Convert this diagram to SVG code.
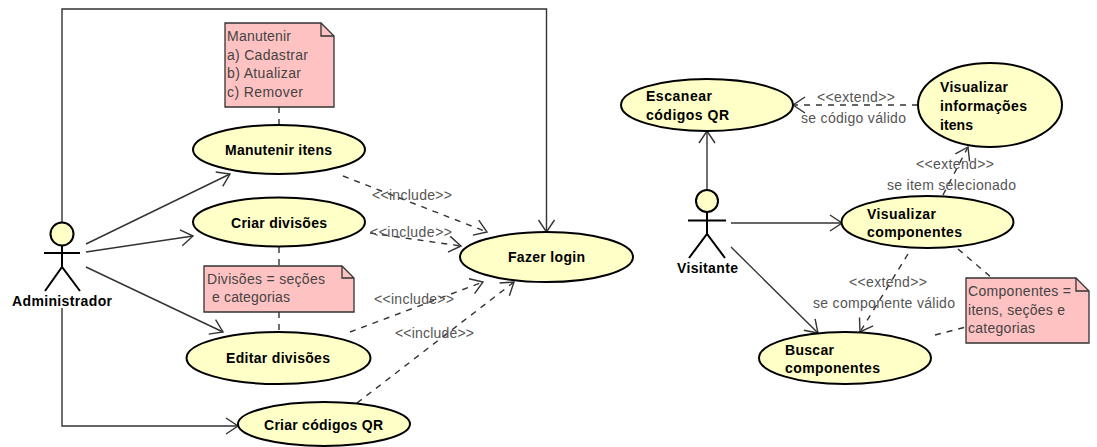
<svg xmlns="http://www.w3.org/2000/svg" width="1097" height="447" viewBox="0 0 1097 447">
<style>
text{font-family:"Liberation Sans",Arial,sans-serif}
.uc{fill:#ffffc8;stroke:#000;stroke-width:2}
.note{fill:#ffc2c2;stroke:#333;stroke-width:1.3}
.fold{fill:none;stroke:#333;stroke-width:1.3}
.actor{fill:none;stroke:#000;stroke-width:2}
.head{fill:#ffffc8;stroke:#000;stroke-width:2}
.b{font-size:14px;font-weight:bold;fill:#000}
.n{font-size:14px;fill:#444}
.l{font-size:14px;fill:#555}
.a{fill:none;stroke:#333;stroke-width:1.4}
.d{fill:none;stroke:#333;stroke-width:1.4;stroke-dasharray:6 6}
.as{marker-end:url(#open)}
</style>
<defs>
<marker id="open" markerUnits="userSpaceOnUse" markerWidth="16" markerHeight="20" refX="13" refY="9" orient="auto">
<path d="M1 1L13 9L1 17" fill="none" stroke="#333" stroke-width="1.4"/>
</marker>
</defs>
<g id="connectors">
<path class="a as" d="M62 222V9H546.500V232"/>
<path class="a as" d="M62 308V426H238"/>
<path class="a as" d="M86 244L230 174"/>
<path class="a as" d="M86 252L193 236"/>
<path class="a as" d="M86 267L223 332"/>
<path class="d" d="M279 107V125"/>
<path class="d" d="M279 247V266"/>
<path class="d" d="M279 312V332"/>
<path class="d as" d="M343 176L487 232"/>
<path class="d as" d="M370 233L461 246"/>
<path class="d as" d="M350 332L483 282"/>
<path class="d as" d="M357 403L514 282"/>
<path class="a as" d="M707 190V131"/>
<path class="a as" d="M731 223H842"/>
<path class="a as" d="M731 247L818 333"/>
<path class="d as" d="M918 105H793"/>
<path class="d as" d="M943 195L968 147"/>
<path class="d as" d="M908 254L860 332"/>
<path class="d" d="M958 249L992 278"/>
<path class="d" d="M935 335L966 327"/>
<text class="l" x="372" y="200" textLength="80">&lt;&lt;include&gt;&gt;</text>
<text class="l" x="370" y="237" textLength="82">&lt;&lt;include&gt;&gt;</text>
<text class="l" x="374" y="304" textLength="80">&lt;&lt;include&gt;&gt;</text>
<text class="l" x="395" y="338" textLength="79">&lt;&lt;include&gt;&gt;</text>
<text class="l" x="817" y="102" textLength="78">&lt;&lt;extend&gt;&gt;</text>
<text class="l" x="801" y="123" textLength="105">se código válido</text>
<text class="l" x="916" y="169" textLength="78">&lt;&lt;extend&gt;&gt;</text>
<text class="l" x="887" y="190" textLength="129">se item selecionado</text>
<text class="l" x="849" y="287" textLength="78">&lt;&lt;extend&gt;&gt;</text>
<text class="l" x="813" y="308" textLength="142">se componente válido</text>
</g>
<g id="actor-administrador">
<circle class="head" cx="62" cy="234" r="11.500"/>
<path class="actor" d="M62 246V267M44 253H80M45 291L62 267L80 291"/>
<text class="b" x="12" y="306" textLength="100">Administrador</text>
</g>
<g id="actor-visitante">
<circle class="head" cx="707" cy="201" r="11"/>
<path class="actor" d="M707 212V234M688 220.500H726M689 258L707 234L725 258"/>
<text class="b" x="677" y="273" textLength="61">Visitante</text>
</g>
<g id="note-manutenir">
<path class="note" d="M225 23H321L334 36V107H225Z"/>
<path class="fold" d="M321 23V36H334"/>
<text class="n" x="227" y="41" textLength="64">Manutenir</text>
<text class="n" x="227" y="60" textLength="81">a) Cadastrar</text>
<text class="n" x="227" y="78" textLength="74">b) Atualizar</text>
<text class="n" x="227" y="97" textLength="76">c) Remover</text>
</g>
<g id="uc-manutenir-itens">
<ellipse class="uc" cx="279" cy="149.500" rx="86" ry="24.500"/>
<text class="b" x="225" y="155" textLength="107">Manutenir itens</text>
</g>
<g id="uc-criar-divisoes">
<ellipse class="uc" cx="279" cy="222" rx="86" ry="24.500"/>
<text class="b" x="231" y="228" textLength="96">Criar divisões</text>
</g>
<g id="note-divisoes">
<path class="note" d="M204 266H342L354 278V312H204Z"/>
<path class="fold" d="M342 266V278H354"/>
<text class="n" x="207" y="284" textLength="118">Divisões = seções</text>
<text class="n" x="212" y="302" textLength="78">e categorias</text>
</g>
<g id="uc-editar-divisoes">
<ellipse class="uc" cx="278.500" cy="358" rx="92" ry="26"/>
<text class="b" x="226" y="363" textLength="104">Editar divisões</text>
</g>
<g id="uc-criar-codigos">
<ellipse class="uc" cx="324" cy="424" rx="86" ry="22"/>
<text class="b" x="264" y="430" textLength="119">Criar códigos QR</text>
</g>
<g id="uc-fazer-login">
<ellipse class="uc" cx="546.500" cy="257" rx="86.500" ry="25"/>
<text class="b" x="508" y="262" textLength="77">Fazer login</text>
</g>
<g id="uc-escanear">
<ellipse class="uc" cx="707" cy="105" rx="86" ry="26"/>
<text class="b" x="646" y="101" textLength="66">Escanear</text>
<text class="b" x="646" y="120" textLength="83">códigos QR</text>
</g>
<g id="uc-visualizar-info">
<ellipse class="uc" cx="990" cy="105" rx="72" ry="42"/>
<text class="b" x="940" y="92" textLength="68">Visualizar</text>
<text class="b" x="940" y="111" textLength="87">informações</text>
<text class="b" x="940" y="130" textLength="33">itens</text>
</g>
<g id="uc-visualizar-comp">
<ellipse class="uc" cx="927.500" cy="222" rx="86" ry="26"/>
<text class="b" x="867" y="219" textLength="69">Visualizar</text>
<text class="b" x="867" y="237" textLength="95">componentes</text>
</g>
<g id="uc-buscar">
<ellipse class="uc" cx="845" cy="358" rx="86" ry="26"/>
<text class="b" x="785" y="355" textLength="49">Buscar</text>
<text class="b" x="785" y="373" textLength="95">componentes</text>
</g>
<g id="note-componentes">
<path class="note" d="M966 278H1076L1089 291V343H966Z"/>
<path class="fold" d="M1076 278V291H1089"/>
<text class="n" x="968" y="296" textLength="103">Componentes =</text>
<text class="n" x="968" y="315" textLength="97">itens, seções e</text>
<text class="n" x="968" y="333" textLength="67">categorias</text>
</g>
</svg>
